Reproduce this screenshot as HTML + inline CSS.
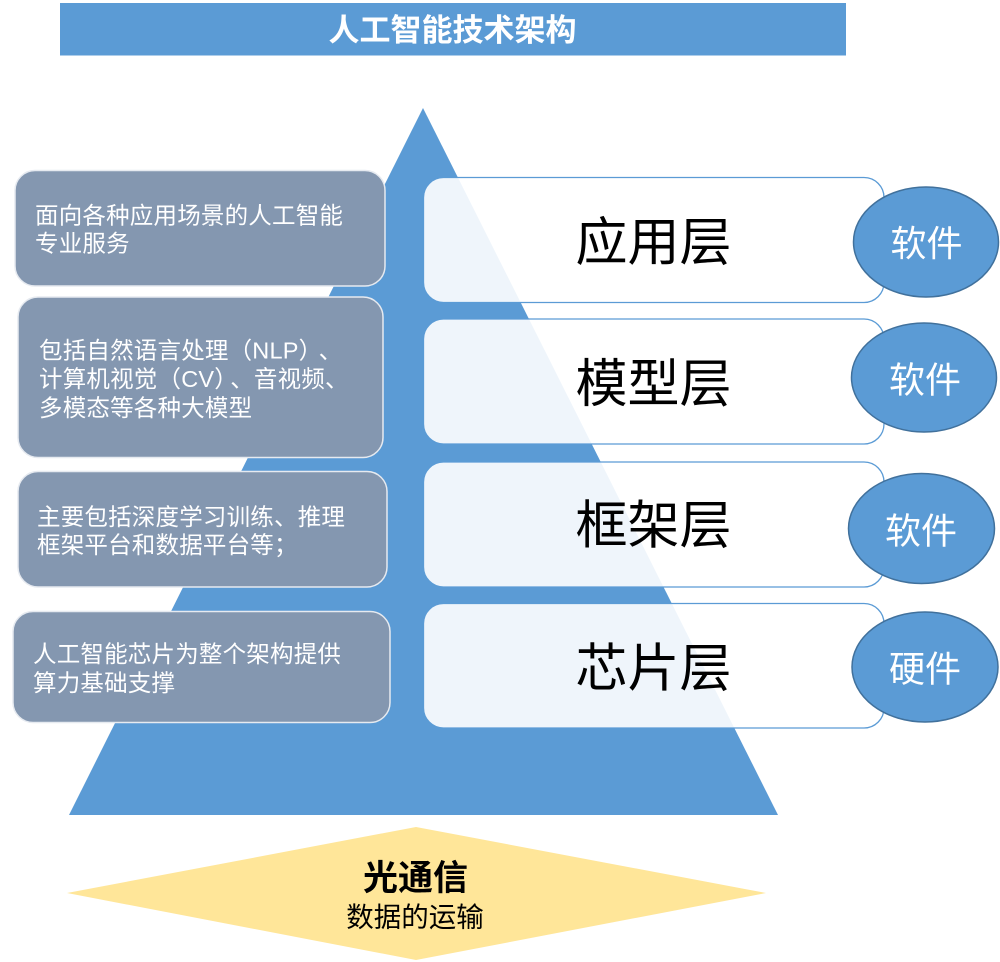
<!DOCTYPE html>
<html>
<head>
<meta charset="utf-8">
<style>
  html, body { margin: 0; padding: 0; background: #ffffff; }
  body { width: 1000px; height: 962px; overflow: hidden; }
  svg { display: block; }
  text { font-family: "Liberation Sans", "Noto Sans CJK SC", sans-serif; }
</style>
</head>
<body>
<svg width="1000" height="962" viewBox="0 0 1000 962" xmlns="http://www.w3.org/2000/svg">
  <!-- Title bar -->
  <rect x="60" y="3" width="786" height="52.5" fill="#5b9bd5"/>
  <text x="452.5" y="41" font-size="31" font-weight="bold" fill="#ffffff" text-anchor="middle">人工智能技术架构</text>

  <!-- Pyramid triangle -->
  <polygon points="423,108 778,815 69,815" fill="#5b9bd5"/>

  <!-- Left description boxes -->
  <rect x="15" y="170.5" width="370" height="115.5" rx="20" ry="20" fill="#8497b0" stroke="#e6eaf0" stroke-width="1.5"/>
  <text font-size="23.5" fill="#ffffff" letter-spacing="0.2">
    <tspan x="35" y="223.5">面向各种应用场景的人工智能</tspan>
    <tspan x="35" y="251.5">专业服务</tspan>
  </text>

  <rect x="18" y="297" width="365" height="160.5" rx="20" ry="20" fill="#8497b0" stroke="#e6eaf0" stroke-width="1.5"/>
  <text font-size="23.5" fill="#ffffff" letter-spacing="0.2">
    <tspan x="39" y="358.5">包括自然语言处理（NLP）</tspan><tspan dx="8">、</tspan>
    <tspan x="39" y="387">计算机视觉（CV）</tspan><tspan dx="4">、音视频、</tspan>
    <tspan x="39" y="416">多模态等各种大模型</tspan>
  </text>

  <rect x="18" y="471.5" width="369" height="115.5" rx="20" ry="20" fill="#8497b0" stroke="#e6eaf0" stroke-width="1.5"/>
  <text font-size="23.5" fill="#ffffff" letter-spacing="0.2">
    <tspan x="37" y="525">主要包括深度学习训练、推理</tspan>
    <tspan x="37" y="553">框架平台和数据平台等；</tspan>
  </text>

  <rect x="13" y="611.5" width="377" height="111" rx="20" ry="20" fill="#8497b0" stroke="#e6eaf0" stroke-width="1.5"/>
  <text font-size="23.5" fill="#ffffff" letter-spacing="0.2">
    <tspan x="33" y="662">人工智能芯片为整个架构提供</tspan>
    <tspan x="33" y="691">算力基础支撑</tspan>
  </text>

  <!-- Right layer boxes -->
  <rect x="423.5" y="177.5" width="460.5" height="125" rx="20" ry="20" fill="#ffffff" fill-opacity="0.9" stroke="#5b9bd5" stroke-width="1.3"/>
  <rect x="423.5" y="319" width="460.5" height="125" rx="20" ry="20" fill="#ffffff" fill-opacity="0.9" stroke="#5b9bd5" stroke-width="1.3"/>
  <rect x="423.5" y="462" width="460.5" height="125" rx="20" ry="20" fill="#ffffff" fill-opacity="0.9" stroke="#5b9bd5" stroke-width="1.3"/>
  <rect x="423.5" y="603.5" width="460.5" height="124.5" rx="20" ry="20" fill="#ffffff" fill-opacity="0.9" stroke="#5b9bd5" stroke-width="1.3"/>

  <text x="653.5" y="260.5" font-size="52" fill="#000000" text-anchor="middle">应用层</text>
  <text x="653.5" y="402" font-size="52" fill="#000000" text-anchor="middle">模型层</text>
  <text x="653.5" y="543.5" font-size="52" fill="#000000" text-anchor="middle">框架层</text>
  <text x="653.5" y="686.5" font-size="52" fill="#000000" text-anchor="middle">芯片层</text>

  <!-- Circles -->
  <ellipse cx="926" cy="242" rx="72.5" ry="55" fill="#5b9bd5" stroke="#41719c" stroke-width="1.5"/>
  <ellipse cx="924" cy="377.5" rx="72.5" ry="54.5" fill="#5b9bd5" stroke="#41719c" stroke-width="1.5"/>
  <ellipse cx="921.5" cy="528.5" rx="73" ry="55" fill="#5b9bd5" stroke="#41719c" stroke-width="1.5"/>
  <ellipse cx="925" cy="667" rx="73" ry="55" fill="#5b9bd5" stroke="#41719c" stroke-width="1.5"/>

  <text x="926.5" y="256" font-size="36" fill="#ffffff" text-anchor="middle">软件</text>
  <text x="925" y="392.5" font-size="36" fill="#ffffff" text-anchor="middle">软件</text>
  <text x="921" y="543.5" font-size="36" fill="#ffffff" text-anchor="middle">软件</text>
  <text x="925" y="681.5" font-size="36" fill="#ffffff" text-anchor="middle">硬件</text>

  <!-- Diamond -->
  <polygon points="416,827 766,893 416,960 67,893" fill="#ffe699"/>
  <text x="415.5" y="890" font-size="35" font-weight="bold" fill="#000000" text-anchor="middle">光通信</text>
  <text x="415" y="926.5" font-size="27.5" fill="#000000" text-anchor="middle">数据的运输</text>
</svg>
</body>
</html>
